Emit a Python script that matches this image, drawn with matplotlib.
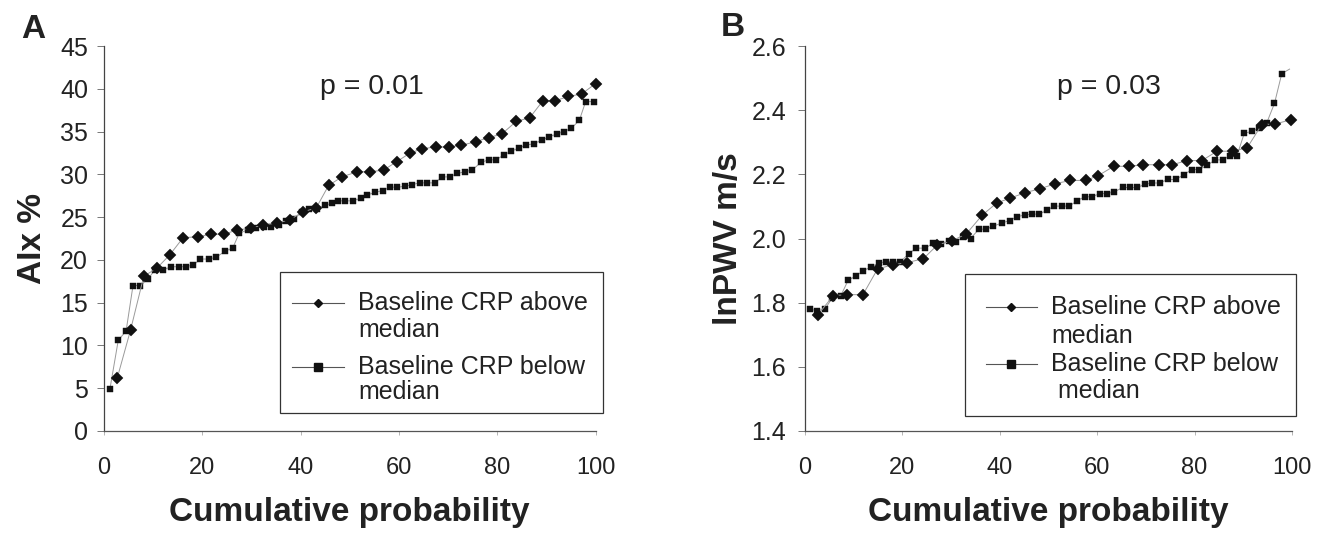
import matplotlib
matplotlib.use("Agg")
import matplotlib.pyplot as plt
from matplotlib.lines import Line2D
from matplotlib.patches import Rectangle

plt.rcParams["font.family"] = ["Liberation Sans", "DejaVu Sans"]

# === Panel A: AIx % vs cumulative probability ===
a_above_x = [2.7, 5.4, 8.1, 10.7, 13.4, 16.1, 19.1, 21.8, 24.5, 27.0, 29.9, 32.4, 35.3,
             37.8, 40.5, 43.2, 45.7, 48.4, 51.5, 54.2, 56.9, 59.6, 62.3, 64.8, 67.5,
             70.2, 72.7, 75.6, 78.3, 80.9, 83.9, 86.6, 89.3, 91.8, 94.5, 97.2, 100.0]
a_above_y = [6.2, 11.8, 18.1, 19.0, 20.6, 22.6, 22.7, 23.0, 23.0, 23.5, 23.7, 24.1, 24.3,
             24.7, 25.6, 26.1, 28.7, 29.7, 30.3, 30.3, 30.5, 31.5, 32.5, 33.0, 33.2,
             33.2, 33.4, 33.8, 34.3, 34.7, 36.2, 36.6, 38.6, 38.6, 39.1, 39.4, 40.6]

a_below_x = [1.2, 2.9, 4.5, 5.9, 7.4, 9.0, 10.3, 12.0, 13.6, 15.2,
             16.6, 18.2, 19.6, 21.3, 22.8, 24.6, 26.2, 27.5, 29.2, 30.9,
             32.6, 33.9, 35.6, 37.1, 38.7, 40.2, 41.8, 43.4, 45.0, 46.3,
             47.6, 49.1, 50.6, 52.2, 53.6, 55.2, 56.7, 58.2, 59.7, 61.2,
             62.7, 64.2, 65.8, 67.3, 68.8, 70.3, 71.9, 73.4, 74.9, 76.7,
             78.3, 79.8, 81.4, 82.9, 84.4, 85.9, 87.5, 89.1, 90.6, 92.1,
             93.6, 95.1, 96.7, 98.0, 99.7]
a_below_y = [4.9, 10.6, 11.7, 17.0, 17.0, 17.8, 18.8, 18.8, 19.2, 19.2,
             19.2, 19.4, 20.1, 20.1, 20.3, 21.0, 21.4, 23.1, 23.5, 23.7,
             23.9, 23.9, 24.1, 24.5, 24.8, 25.6, 26.0, 26.0, 26.4, 26.6,
             26.9, 26.9, 26.9, 27.2, 27.6, 27.9, 28.1, 28.5, 28.5, 28.6,
             28.8, 29.0, 29.0, 29.0, 29.7, 29.7, 30.1, 30.3, 30.5, 31.4,
             31.7, 31.7, 32.3, 32.7, 33.1, 33.4, 33.6, 34.0, 34.4, 34.7,
             35.0, 35.4, 36.3, 38.5, 38.5]

# === Panel B: lnPWV vs cumulative probability ===
b_above_x = [2.7, 5.8, 8.7, 11.9, 14.9, 18.0, 21.0, 24.3, 27.2, 30.2,
             33.1, 36.4, 39.4, 42.0, 45.2, 48.3, 51.4, 54.5, 57.6, 60.1,
             63.4, 66.5, 69.5, 72.6, 75.4, 78.5, 81.5, 84.6, 87.8, 90.8,
             93.8, 96.6, 99.7]
b_above_y = [1.763, 1.822, 1.825, 1.825, 1.905, 1.918, 1.925, 1.937, 1.980, 1.993,
             2.014, 2.073, 2.111, 2.125, 2.143, 2.155, 2.171, 2.181, 2.181, 2.195,
             2.225, 2.225, 2.230, 2.230, 2.230, 2.243, 2.243, 2.272, 2.272, 2.283,
             2.355, 2.357, 2.370]

b_below_x = [1.0, 2.5, 4.1, 5.6, 7.3, 8.9, 10.4, 11.9, 13.5, 15.1,
             16.6, 18.1, 19.6, 21.3, 22.8, 24.7, 26.3, 27.9, 29.5, 31.0,
             32.5, 34.0, 35.7, 37.2, 38.7, 40.4, 42.0, 43.5, 45.1, 46.6,
             48.1, 49.7, 51.2, 52.8, 54.3, 55.8, 57.4, 59.0, 60.5, 62.0,
             63.5, 65.2, 66.7, 68.2, 69.8, 71.3, 72.8, 74.5, 76.1, 77.8,
             79.4, 80.9, 82.6, 84.2, 85.8, 87.2, 88.7, 90.2, 91.8, 93.3,
             94.8, 96.4, 97.9, 99.5]
b_below_y = [1.780, 1.775, 1.780, 1.815, 1.820, 1.871, 1.882, 1.899, 1.911, 1.923,
             1.928, 1.928, 1.928, 1.952, 1.970, 1.970, 1.985, 1.982, 1.992, 1.990,
             2.004, 2.000, 2.029, 2.029, 2.039, 2.048, 2.056, 2.068, 2.073, 2.076,
             2.076, 2.088, 2.101, 2.101, 2.101, 2.117, 2.130, 2.130, 2.140, 2.140,
             2.145, 2.159, 2.159, 2.159, 2.169, 2.173, 2.173, 2.184, 2.184, 2.199,
             2.215, 2.215, 2.228, 2.245, 2.245, 2.258, 2.258, 2.328, 2.334, 2.345,
             2.360, 2.421, 2.514, 2.528]

x_ticks = [0, 20, 40, 60, 80, 100]
a_yticks = [0, 5, 10, 15, 20, 25, 30, 35, 40, 45]
b_yticks = [1.4, 1.6, 1.8, 2.0, 2.2, 2.4, 2.6]

W, H = 1324, 536
TXT = "#222222"
LINE = "#9a9a9a"


def fx(px):
    return px / W


def fy(py):
    return 1 - py / H


fig = plt.figure(figsize=(W / 100, H / 100), dpi=100)
axA = fig.add_axes([fx(104), fy(431), (595.5 - 104) / W, (431 - 46) / H])
axB = fig.add_axes([fx(805), fy(431), (1292 - 805) / W, (431 - 46) / H])


def style(ax, yticks, ylim, ylabel, ypad, ylabelpad, fmt):
    ax.set_xlim(0, 100)
    ax.set_ylim(*ylim)
    ax.set_xticks(x_ticks)
    ax.set_yticks(yticks)
    ax.set_yticklabels([fmt.format(v) for v in yticks])
    for s in ("top", "right"):
        ax.spines[s].set_visible(False)
    ax.spines["left"].set_color("#444444")
    ax.spines["bottom"].set_color("#555555")
    ax.spines["left"].set_linewidth(0.9)
    ax.spines["bottom"].set_linewidth(0.9)
    ax.tick_params(axis="y", length=5, width=0.7, color="#777777", pad=ypad,
                   labelsize=18, labelcolor=TXT)
    ax.tick_params(axis="x", length=3, width=0.6, color="#aaaaaa", pad=16,
                   labelsize=17, labelcolor=TXT)
    ax.set_xlabel("Cumulative probability", fontsize=24, fontweight="bold",
                  color=TXT, labelpad=13)
    ax.set_ylabel(ylabel, fontsize=24, fontweight="bold", color=TXT,
                  labelpad=ylabelpad)


def series(ax, x, y, marker, ms, **kw):
    ax.plot(x, y, color=LINE, linewidth=0.7, marker=marker, markersize=ms,
            markerfacecolor="#111111", markeredgecolor="#111111",
            markeredgewidth=0.3, clip_on=False, **kw)


series(axA, a_below_x, a_below_y, "s", 4.8)
series(axA, a_above_x, a_above_y, "D", 6.0)
series(axB, b_below_x, b_below_y, "s", 4.8, markevery=slice(0, len(b_below_x) - 1))
series(axB, b_above_x, b_above_y, "D", 6.2)

style(axA, a_yticks, (0, 45), "AIx %", 6.5, 8.5, "{:g}")
style(axB, b_yticks, (1.4, 2.6), "lnPWV m/s", 8.6, 5.5, "{:.1f}")

# panel letters and p values
fig.text(fx(21), fy(37.5), "A", fontsize=24, fontweight="bold", color=TXT, va="baseline")
fig.text(fx(721), fy(36.5), "B", fontsize=24, fontweight="bold", color=TXT, va="baseline")
fig.text(fx(320.5), fy(94), "p = 0.01", fontsize=20.5, color=TXT, va="baseline")
fig.text(fx(1057), fy(93.5), "p = 0.03", fontsize=20.5, color=TXT, va="baseline")


# hand-built legends (handle sits on the first text line)
def legend(box, hx0, hx1, tx, rows, labels):
    x0, y0, x1, y1 = box
    fig.patches.append(Rectangle((fx(x0), fy(y1)), fx(x1) - fx(x0), fy(y0) - fy(y1),
                                 transform=fig.transFigure, fill=False,
                                 edgecolor="#333333", linewidth=0.9))
    for (r1, r2), (l1, l2), (mk, ms) in zip(rows, labels, [("D", 4.2), ("s", 5.2)]):
        fig.lines.append(Line2D([fx(hx0), fx(hx1)], [fy(r1), fy(r1)],
                                transform=fig.transFigure, color="#555555",
                                linewidth=0.8))
        fig.lines.append(Line2D([fx((hx0 + hx1) / 2)], [fy(r1)],
                                transform=fig.transFigure, marker=mk, markersize=ms,
                                color="#111111", linestyle="none"))
        fig.text(fx(tx), fy(r1), l1, fontsize=18, color=TXT, va="center")
        fig.text(fx(tx), fy(r2), l2, fontsize=18, color=TXT, va="center")


legend((280, 272, 603, 413), 291.5, 343.5, 358.5,
       [(303, 330), (366.5, 392)],
       [("Baseline CRP above", "median"), ("Baseline CRP below", "median")])
legend((965, 274, 1296, 416), 986, 1037, 1051,
       [(306.5, 336), (364, 391.5)],
       [("Baseline CRP above", "median"), ("Baseline CRP below", " median")])

fig.savefig("out.png", dpi=100)
